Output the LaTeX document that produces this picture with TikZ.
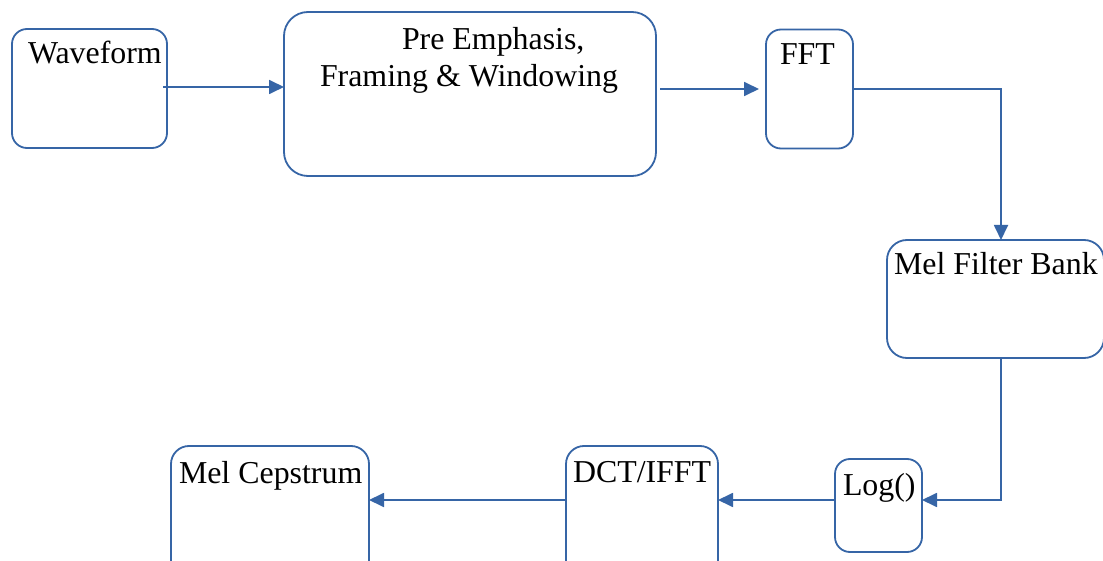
\documentclass[tikz,border=0pt]{standalone}
\usepackage{fontspec}
\setmainfont{Liberation Serif}
\usetikzlibrary{arrows.meta,calc}
\definecolor{boxblue}{RGB}{54,101,166}
\tikzset{
  box/.style={draw=boxblue, line width=1.8bp, inner sep=0pt, outer sep=0pt},
  lbl/.style={anchor=base west, inner sep=0pt, outer sep=0pt, font=\fontsize{32}{38}\selectfont, text=black},
  arr/.style={draw=boxblue, line width=1.8bp, -{Triangle[length=15bp,width=14bp]}}
}
\begin{document}
\begin{tikzpicture}[x=1bp,y=-1bp]
\clip (0,0) rectangle (1103,561);
\fill[white] (0,0) rectangle (1103,561);
% boxes
\node[box, rounded corners=15bp, minimum width=155bp, minimum height=119bp] (wave) at (89.5,88.5) {};
\node[box, rounded corners=24bp, minimum width=372bp, minimum height=164bp] (pre) at (470,94) {};
\node[box, rounded corners=15bp, minimum width=87bp, minimum height=119bp] (fft) at (809.5,89) {};
\node[box, rounded corners=20bp, minimum width=217bp, minimum height=118bp] (mel) at (995.5,299) {};
\node[box, rounded corners=15bp, minimum width=87bp, minimum height=93bp] (log) at (878.5,505.5) {};
\node[box, rounded corners=18bp, minimum width=152bp, minimum height=139bp] (dct) at (642,515.5) {};
\node[box, rounded corners=18bp, minimum width=198bp, minimum height=139bp] (melc) at (270,515.5) {};
% labels
\node[lbl] (twave) at (28,64) {Waveform};
\node[lbl] (tpre1) at (402,50) {Pre Emphasis,};
\node[lbl] (tpre2) at (320,87) {Framing \& Windowing};
\node[lbl] (tfft) at (780,65) {FFT};
\node[lbl] (tmel) at (894,275) {Mel Filter Bank};
\node[lbl] (tlog) at (843,495) {Log()};
\node[lbl] (tdct) at (573,482) {DCT/IFFT};
\node[lbl] (tmelc) at (179,483) {Mel Cepstrum};
% connectors
\coordinate (a1) at ([shift={(-4,-1.5)}]wave.east);
\draw[arr] (a1) -- (a1 -| pre.west);
\coordinate (a2) at (fft.west -| pre.east);
\draw[arr] ([xshift=4bp]a2) -- ([xshift=-7bp]fft.west);
\draw[arr] (fft.east) -| ([xshift=5.5bp]mel.north);
\draw[arr] ([xshift=5.5bp]mel.south) |- ([yshift=5.5bp]log.east);
\coordinate (a5) at ([yshift=5.5bp]log.west);
\draw[arr] (a5) -- (a5 -| dct.east);
\coordinate (a6) at (a5 -| dct.west);
\draw[arr] (a6) -- (a6 -| melc.east);
\end{tikzpicture}
\end{document}
